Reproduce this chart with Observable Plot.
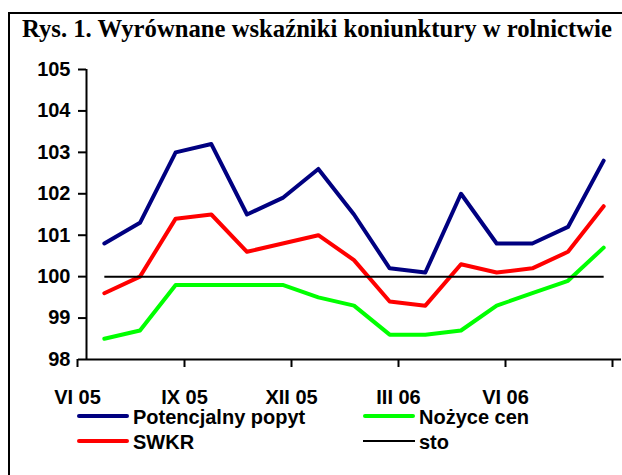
<!DOCTYPE html>
<html><head><meta charset="utf-8">
<script src="https://cdn.jsdelivr.net/npm/d3@7"></script>
<script src="https://cdn.jsdelivr.net/npm/@observablehq/plot@0.6"></script>
<style>
html,body{margin:0;padding:0;background:#fff;}
body{width:622px;height:475px;overflow:hidden;position:relative;}
#frame{position:absolute;left:8px;top:12px;width:700px;height:600px;border-top:2px solid #000;border-left:2px solid #000;}
#title{position:absolute;left:22px;top:16.5px;font-family:"Liberation Serif","Times New Roman",serif;font-weight:bold;font-size:24.7px;line-height:1;white-space:nowrap;color:#000;}
#chart{position:absolute;left:0;top:50px;}
.lg{position:absolute;font-family:"Liberation Sans",Arial,sans-serif;font-weight:bold;font-size:20px;line-height:1;white-space:nowrap;color:#000;}
.sw{position:absolute;border-radius:2px;}
</style></head><body>
<div id="frame"></div>
<div id="title">Rys. 1. Wyrównane wskaźniki koniunktury w rolnictwie</div>
<div id="chart"></div>
<div id="legend"></div>
<script>
const months = ["VI 05","VII 05","VIII 05","IX 05","X 05","XI 05","XII 05","I 06","II 06","III 06","IV 06","V 06","VI 06","VII 06","VIII 06"];
const potencjalnyPopyt = [100.8,101.3,103.0,103.2,101.5,101.9,102.6,101.5,100.2,100.1,102.0,100.8,100.8,101.2,102.8];
const swkr = [99.6,100.0,101.4,101.5,100.6,100.8,101.0,100.4,99.4,99.3,100.3,100.1,100.2,100.6,101.7];
const nozyceCen = [98.5,98.7,99.8,99.8,99.8,99.8,99.5,99.3,98.6,98.6,98.7,99.3,99.6,99.9,100.7];
const sto = [100,100,100,100,100,100,100,100,100,100,100,100,100,100,100];
const tickLabels = ["VI 05","IX 05","XII 05","III 06","VI 06"];
const yTicks = [98,99,100,101,102,103,104,105];

const seriesNames = ["Potencjalny popyt","SWKR","Nożyce cen","sto"];
const seriesColors = ["#000080","#ff0000","#00ff00","#000000"];
const seriesValues = [potencjalnyPopyt, swkr, nozyceCen, sto];
const seriesWidths = [4,4,4,2];

const xTicks = tickLabels.map(l => months.indexOf(l) - 0.5).concat([months.length - 0.5]);
const labelAt = new Map(tickLabels.map(l => [months.indexOf(l) - 0.5, l]));

const lineMarks = seriesValues.map((vals, s) =>
  Plot.line(vals.map((v, i) => ({i, v})), {
    x: "i", y: "v", stroke: seriesColors[s], strokeWidth: seriesWidths[s],
    strokeLinejoin: "round", strokeLinecap: s === 3 ? "butt" : "round"
  })
);

const chart = Plot.plot({
  width: 622, height: 360,
  marginTop: 19, marginBottom: 51, marginLeft: 86, marginRight: 1,
  style: {fontFamily: "'Liberation Sans', Arial, sans-serif", fontSize: "20px", fontWeight: "bold", color: "#000", background: "transparent", overflow: "visible"},
  x: {type: "linear", domain: [-0.5, months.length - 0.5], label: null},
  y: {domain: [98, 105], label: null},
  marks: [
    Plot.axisY(yTicks, {tickSize: 8, tickPadding: 8, strokeWidth: 2, fontSize: 20, fontWeight: "bold", label: null}),
    Plot.axisX(xTicks, {tickSize: 8, tickPadding: 22, strokeWidth: 2, fontSize: 20, fontWeight: "bold", dx: -9, label: null,
      tickFormat: d => labelAt.get(d) ?? ""}),
    Plot.ruleX([-0.5], {strokeWidth: 2}),
    Plot.ruleY([98], {strokeWidth: 2}),
    ...lineMarks
  ]
});
document.getElementById("chart").appendChild(chart);

// legend
const legend = document.getElementById("legend");
const cols = [77, 363], rows = [416, 441];
const order = [0, 2, 1, 3]; // row-major placement as in the reference
order.forEach((s, k) => {
  const cx = cols[k % 2], cy = rows[Math.floor(k / 2)];
  const sw = document.createElement("div");
  sw.className = "sw";
  const w = seriesWidths[s];
  sw.style.cssText = `left:${cx}px;top:${cy - w / 2}px;width:52px;height:${w}px;background:${seriesColors[s]};` + (s === 3 ? "border-radius:0;" : "");
  legend.appendChild(sw);
  const t = document.createElement("div");
  t.className = "lg";
  t.textContent = seriesNames[s];
  t.style.left = (cx + 56) + "px";
  t.style.top = (cy - 9) + "px";
  legend.appendChild(t);
});
</script>
</body></html>
